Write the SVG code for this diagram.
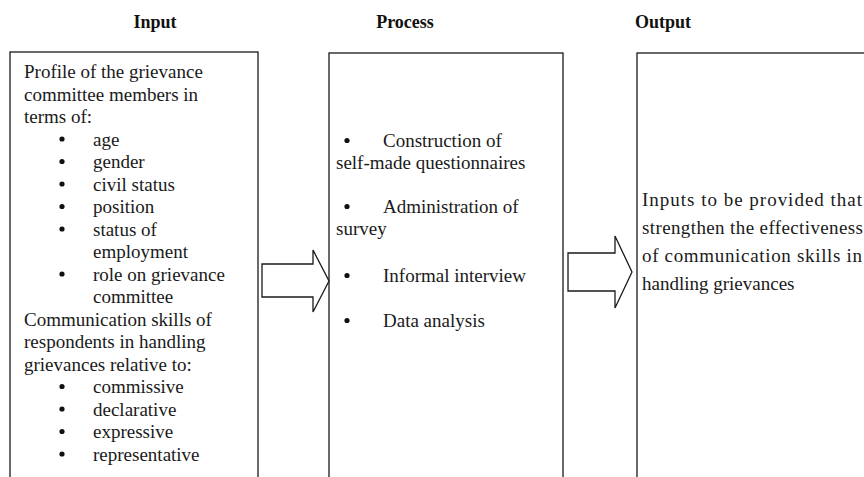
<svg xmlns="http://www.w3.org/2000/svg" width="864" height="477" viewBox="0 0 864 477">
<style>
  .box { fill: #ffffff; stroke: #1a1a1a; stroke-width: 1.3; }
  .arrow { fill: #ffffff; stroke: #1a1a1a; stroke-width: 1.3; stroke-linejoin: miter; }
  .hdr { font-family: 'Liberation Serif', 'DejaVu Serif', serif; font-size: 18px; font-weight: bold; fill: #111; text-anchor: middle; }
  .t { font-family: 'Liberation Serif', 'DejaVu Serif', serif; font-size: 19px; fill: #1a1a1a; }
  .b { fill: #111; }
</style>
<rect x="0" y="0" width="864" height="477" fill="#ffffff"/>
<g id="headers" font-family="Liberation Serif, serif">
  <text class="hdr" x="155" y="28">Input</text>
  <text class="hdr" x="405" y="28">Process</text>
  <text class="hdr" x="663" y="28">Output</text>
</g>
<g id="input" font-family="Liberation Serif, serif">
  <rect class="box" x="10" y="52" width="248" height="440"/>
  <text class="t" x="24" y="78">Profile of the grievance</text>
  <text class="t" x="24" y="100.5">committee members in</text>
  <text class="t" x="24" y="123">terms of:</text>
  <g class="b">
    <circle cx="62" cy="139" r="2.6"/>
    <circle cx="62" cy="161.5" r="2.6"/>
    <circle cx="62" cy="184" r="2.6"/>
    <circle cx="62" cy="206.5" r="2.6"/>
    <circle cx="62" cy="229" r="2.6"/>
    <circle cx="62" cy="274" r="2.6"/>
    <circle cx="62" cy="386.5" r="2.6"/>
    <circle cx="62" cy="409" r="2.6"/>
    <circle cx="62" cy="431.5" r="2.6"/>
    <circle cx="62" cy="454" r="2.6"/>
  </g>
  <text class="t" x="93" y="145.5">age</text>
  <text class="t" x="93" y="168">gender</text>
  <text class="t" x="93" y="190.5">civil status</text>
  <text class="t" x="93" y="213">position</text>
  <text class="t" x="93" y="235.5">status of</text>
  <text class="t" x="93" y="258">employment</text>
  <text class="t" x="93" y="280.5">role on grievance</text>
  <text class="t" x="93" y="303">committee</text>
  <text class="t" x="24" y="325.5">Communication skills of</text>
  <text class="t" x="24" y="348">respondents in handling</text>
  <text class="t" x="24" y="370.5">grievances relative to:</text>
  <text class="t" x="93" y="393">commissive</text>
  <text class="t" x="93" y="415.5">declarative</text>
  <text class="t" x="93" y="438">expressive</text>
  <text class="t" x="93" y="460.5">representative</text>
</g>
<g id="process" font-family="Liberation Serif, serif">
  <rect class="box" x="329" y="53" width="234" height="440"/>
  <g class="b">
    <circle cx="347" cy="140.5" r="2.6"/>
    <circle cx="347" cy="206.5" r="2.6"/>
    <circle cx="347" cy="275.5" r="2.6"/>
    <circle cx="347" cy="320.5" r="2.6"/>
  </g>
  <text class="t" x="383" y="147">Construction of</text>
  <text class="t" x="336" y="169">self-made questionnaires</text>
  <text class="t" x="383" y="213">Administration of</text>
  <text class="t" x="336" y="235">survey</text>
  <text class="t" x="383" y="282">Informal interview</text>
  <text class="t" x="383" y="327">Data analysis</text>
</g>
<g id="output" font-family="Liberation Serif, serif">
  <rect class="box" x="637" y="53" width="240" height="440"/>
  <text class="t" x="642" y="206" textLength="220" lengthAdjust="spacing">Inputs to be provided that</text>
  <text class="t" x="642" y="234" textLength="221" lengthAdjust="spacing">strengthen the effectiveness</text>
  <text class="t" x="642" y="262" textLength="220" lengthAdjust="spacing">of communication skills in</text>
  <text class="t" x="642" y="290">handling grievances</text>
</g>
<g id="connectors">
  <polygon class="arrow" points="262,264 313,264 313,250 329,281 313,312 313,297 262,297"/>
  <polygon class="arrow" points="568,253 615,253 615,236 632,272 615,308 615,291 568,291"/>
</g>
</svg>
